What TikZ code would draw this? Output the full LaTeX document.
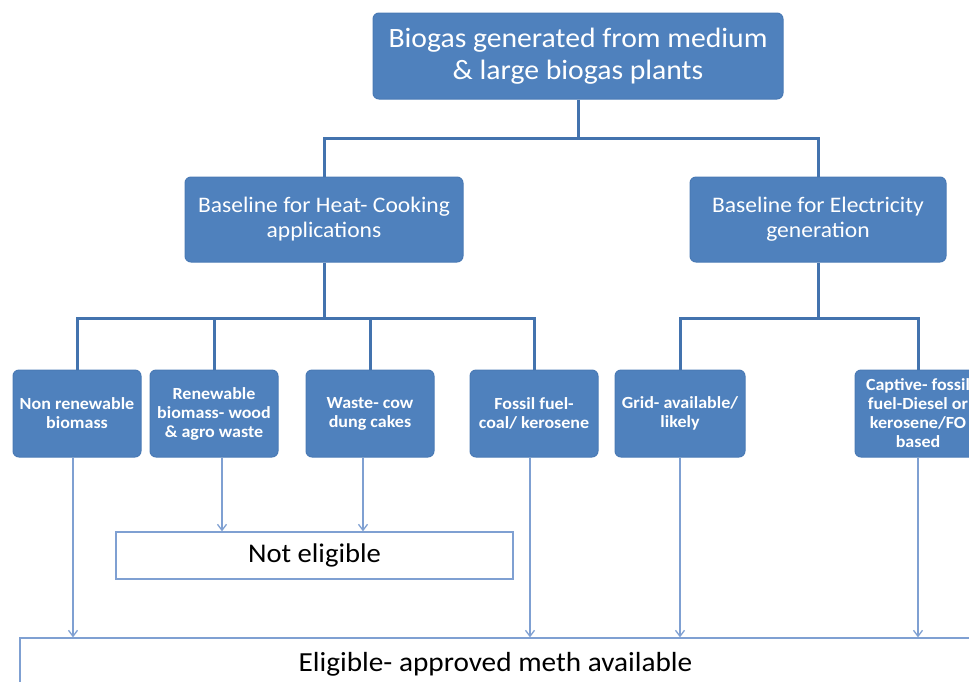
\documentclass[tikz,border=0pt]{standalone}
\usepackage{fontspec}
\setmainfont{Carlito}[FakeStretch=1.06]
\usetikzlibrary{arrows.meta}
\definecolor{boxblue}{HTML}{4F81BD}
\definecolor{boxedge}{HTML}{4A7AB5}
\definecolor{treeblue}{HTML}{4373AE}
\definecolor{arrblue}{HTML}{7FA0D2}
\tikzset{
  bluebox/.style={rectangle, rounded corners=6pt, fill=boxblue, draw=boxedge, line width=1pt,
    text=white, align=center, inner sep=2pt},
  topbox/.style={bluebox, font=\fontsize{28}{32}\selectfont},
  midbox/.style={bluebox, font=\fontsize{22.2}{25}\selectfont, minimum height=85pt},
  leafbox/.style={bluebox, font=\bfseries\fontsize{17}{19}\selectfont, minimum height=87pt},
  whitebox/.style={rectangle, draw=arrblue, line width=1.3pt, fill=white, text=black, align=center},
  tree/.style={draw=treeblue, line width=3pt},
  arr/.style={draw=arrblue, line width=1.5pt, -{Straight Barb[length=6pt,width=9pt,line width=1.3pt]}}
}
\begin{document}
\begin{tikzpicture}[x=1pt,y=-1pt]
\useasboundingbox (0,0) rectangle (969,681);
\clip (0,0) rectangle (969,681);
% nodes
\node[topbox, minimum width=410pt, minimum height=86pt] (top) at (578,56) {Biogas generated from medium\\\& large biogas plants};
\node[midbox, minimum width=278pt] (heat) at (324,219.5) {Baseline for Heat- Cooking\\applications};
\node[midbox, minimum width=256pt] (elec) at (818,219.5) {Baseline for Electricity\\generation};
\node[leafbox, minimum width=128pt] (nr) at (77,413.5) {Non renewable\\biomass};
\node[leafbox, minimum width=128pt] (rw) at (214,413.5) {Renewable\\biomass- wood\\\& agro waste};
\node[leafbox, minimum width=128pt] (wc) at (370,413.5) {Waste- cow\\dung cakes};
\node[leafbox, minimum width=128pt] (ff) at (534,413.5) {Fossil fuel-\\coal/ kerosene};
\node[leafbox, minimum width=130pt] (grid) at (680,413.5) {Grid- available/\\likely};
\node[leafbox, minimum width=126pt] (cap) at (918,413.5) {Captive- fossil\\fuel-Diesel or\\kerosene/FO\\based};
\node[whitebox, minimum width=397pt, minimum height=47pt, font=\fontsize{27}{30}\selectfont] (noteli) at (314.5,555.5) {Not eligible};
\node[whitebox, minimum width=951pt, minimum height=52pt, font=\fontsize{27.6}{31}\selectfont] (eli) at (495.5,664) {Eligible- approved meth available};
% tree connectors
\coordinate (j1) at (578,138);
\coordinate (j2) at (324,318);
\coordinate (j3) at (818,318);
\draw[tree] (top.south) -- (j1);
\draw[tree] (j1) -| (heat.north);
\draw[tree] (j1) -| (elec.north);
\draw[tree] (heat.south) -- (j2);
\draw[tree] (j2) -| (nr.north);
\draw[tree] (j2) -| (rw.north);
\draw[tree] (j2) -| (wc.north);
\draw[tree] (j2) -| (ff.north);
\draw[tree] (elec.south) -- (j3);
\draw[tree] (j3) -| (grid.north);
\draw[tree] (j3) -| (cap.north);
% arrows
\draw[arr] ([xshift=-4pt]nr.south) -- ([xshift=-4pt]nr.south |- eli.north);
\draw[arr] ([xshift=8pt]rw.south) -- ([xshift=8pt]rw.south |- noteli.north);
\draw[arr] ([xshift=-7pt]wc.south) -- ([xshift=-7pt]wc.south |- noteli.north);
\draw[arr] ([xshift=-4pt]ff.south) -- ([xshift=-4pt]ff.south |- eli.north);
\draw[arr] (grid.south) -- (grid.south |- eli.north);
\draw[arr] (cap.south) -- (cap.south |- eli.north);
\end{tikzpicture}
\end{document}
